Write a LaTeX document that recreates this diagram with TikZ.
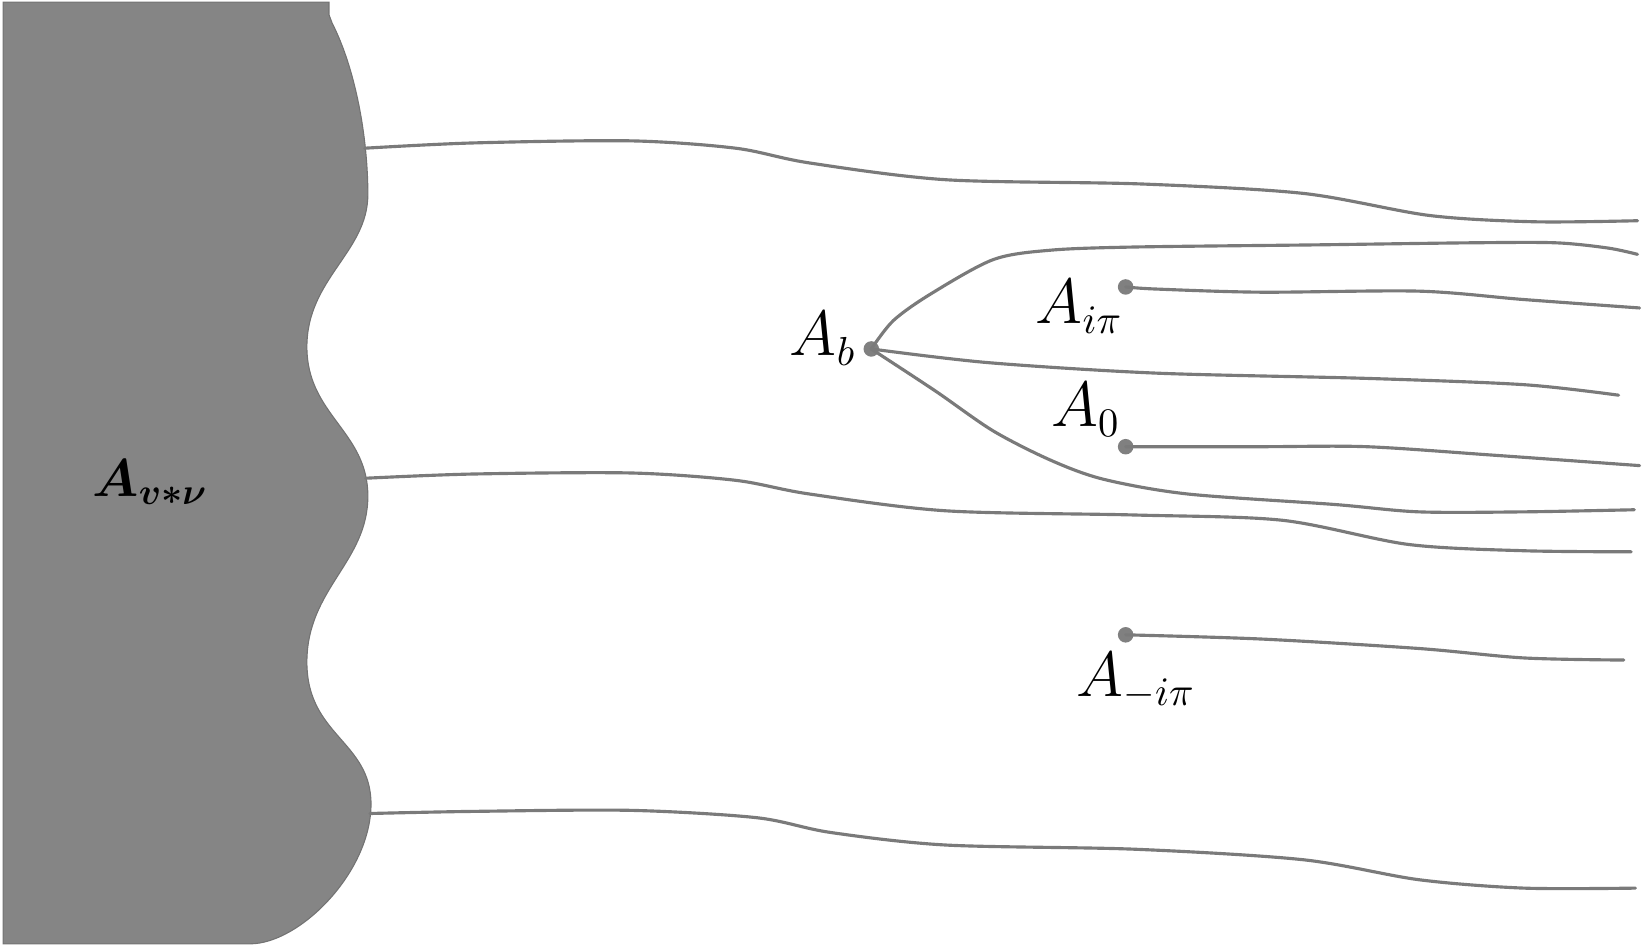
\documentclass[tikz,border=0pt]{standalone}
\usepackage{bm}
\begin{document}
\begin{tikzpicture}[x=0.01cm,y=-0.01cm,
  curve/.style={draw=black!52,line width=0.85pt,line cap=round},
  dotnode/.style={circle,fill=black!50,inner sep=0pt,minimum size=4.2pt},
  lbl/.style={inner sep=0pt,font=\fontsize{16}{19}\selectfont}]
\useasboundingbox (0,0) rectangle (1568,902);
% blob
\fill[fill=black!48,draw=black!55,line width=0.3pt]
  (3,2) -- (313,2) -- (313,14) -- (316,22)
  .. controls (338,65) and (350,130) .. (350,185)
  .. controls (350,240) and (292,265) .. (292,330)
  .. controls (292,395) and (350,410) .. (350,472)
  .. controls (350,535) and (292,560) .. (292,630)
  .. controls (292,700) and (353,705) .. (353,765)
  .. controls (353,830) and (285,898) .. (238,898)
  -- (3,898) -- cycle;
\node[lbl,font=\fontsize{14}{17}\selectfont] (Avn) at (143,459) {$\bm{A_{v*\nu}}$};
% attach coordinates
\coordinate (s1) at (347,141);
\coordinate (s2) at (348,455);
\coordinate (s3) at (352,774);
\coordinate (e1) at (1558,210);
\coordinate (e2) at (1552,525);
\coordinate (e3) at (1556,845);
\coordinate (eu) at (1558,242);
\coordinate (em) at (1540,376);
\coordinate (el) at (1555,485);
\coordinate (ei) at (1560,293);
\coordinate (e0) at (1560,443);
\coordinate (emi) at (1545,628);
% dots
\node[dotnode] (Ab) at (829,332) {};
\node[dotnode] (Aip) at (1071,273) {};
\node[dotnode] (A0) at (1071,425) {};
\node[dotnode] (Amip) at (1071,604) {};
% labels
\node[lbl] (LAb) at (783,322) {$A_b$};
\node[lbl] (LAip) at (1027,292) {$A_{i\pi}$};
\node[lbl] (LA0) at (1033,390) {$A_0$};
\node[lbl] (LAmip) at (1081,648) {$A_{-i\pi}$};
% long lines
\draw[curve] plot[smooth,tension=0.5] coordinates {(s1) (450,136) (600,134) (700,141) (770,155) (900,171) (1085,175) (1240,184) (1360,205) (1460,211) (e1)};
\draw[curve] plot[smooth,tension=0.5] coordinates {(s2) (450,451) (600,450) (700,457) (770,470) (900,486) (1080,490) (1220,495) (1340,518) (1450,524) (e2)};
\draw[curve] plot[smooth,tension=0.5] coordinates {(s3) (450,772) (600,771) (720,778) (790,792) (900,804) (1080,808) (1240,818) (1350,837) (1450,845) (e3)};
% branches from Ab
\draw[curve] plot[smooth,tension=0.5] coordinates {(Ab) (850,305) (885,280) (945,247) (1000,238) (1080,235) (1250,233) (1400,231) (1480,231) (1530,236) (eu)};
\draw[curve] plot[smooth,tension=0.5] coordinates {(Ab) (940,345) (1100,355) (1300,360) (1450,366) (em)};
\draw[curve] plot[smooth,tension=0.5] coordinates {(Ab) (890,372) (945,410) (1000,438) (1050,456) (1130,470) (1270,480) (1350,487) (1450,487) (el)};
% lines from dots
\draw[curve] plot[smooth,tension=0.5] coordinates {(Aip) (1100,275) (1200,278) (1350,277) (1450,285) (ei)};
\draw[curve] plot[smooth,tension=0.5] coordinates {(A0) (1200,425) (1300,425) (1420,433) (e0)};
\draw[curve] plot[smooth,tension=0.5] coordinates {(Amip) (1200,608) (1350,617) (1450,626) (emi)};
\end{tikzpicture}
\end{document}
